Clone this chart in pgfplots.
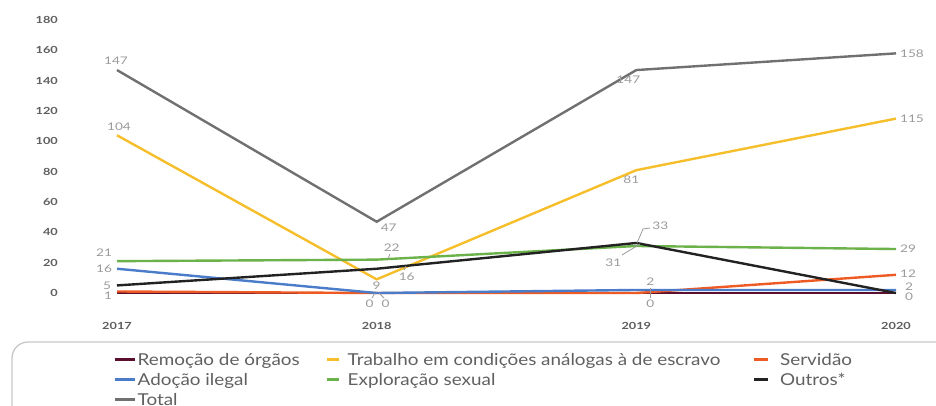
\documentclass[border=0pt]{standalone}
\usepackage{pgfplots}
\pgfplotsset{compat=1.18}
\usepackage{fontspec}
\setmainfont{Lato}[FakeStretch=1.15]
\newfontfamily\tickfont{Lato}[FakeStretch=1.3]

\definecolor{remocao}{HTML}{5B0F2E}
\definecolor{trabalho}{HTML}{F5BE2A}
\definecolor{servidao}{HTML}{EE5A24}
\definecolor{adocao}{HTML}{4A7CC9}
\definecolor{exploracao}{HTML}{6BB24A}
\definecolor{outros}{HTML}{222222}
\definecolor{total}{HTML}{707070}
\definecolor{tickgray}{HTML}{5E5E5E}
\definecolor{labgray}{HTML}{9A9A9A}
\definecolor{legtext}{HTML}{606060}

% legend images sit in 20pt cells; dash length differs per legend column
\pgfplotsset{
  dashA/.style={legend image code/.code={%
      \draw[##1, line width=3pt] (0pt,1.9pt) -- (20pt,1.9pt);}},
  dashB/.style={legend image code/.code={%
      \path[draw=none] (0pt,0pt) -- (20pt,0pt);
      \draw[##1, line width=3pt] (0pt,1.9pt) -- (12pt,1.9pt);}},
  dashC/.style={legend image code/.code={%
      \path[draw=none] (0pt,0pt) -- (20pt,0pt);
      \draw[##1, line width=3pt] (0pt,1.9pt) -- (14pt,1.9pt);}},
}

\newcommand{\lab}[4]{\node[lbl] at ([shift={(#3pt,#4pt)}]axis cs:#1) {#2};}

\begin{document}
\begin{tikzpicture}[x=1pt,y=1pt,
  lbl/.style={font=\tickfont\fontsize{10.5}{11}\selectfont, text=labgray, inner sep=0pt}]
\useasboundingbox (0,0) rectangle (936,-405);
\begin{scope}
  \clip (0,0) rectangle (936,-405);
  \draw[draw=black!22, line width=1.3pt, rounded corners=16pt] (12,-342) rectangle (990,-470);
\end{scope}
\begin{axis}[
  at={(117pt,-293pt)}, anchor=south west,
  scale only axis, width=779pt, height=273pt,
  xmin=2017, xmax=2020, ymin=0, ymax=180,
  xtick={2017,2018,2019,2020},
  xticklabels={2017,2018,2019,2020},
  ytick={0,20,...,180},
  /pgf/number format/assume math mode=true,
  axis line style={draw=none},
  tick style={draw=none},
  clip=false,
  ticklabel style={font=\tickfont\bfseries\fontsize{9.8}{10}\selectfont, text=tickgray, inner sep=0pt},
  yticklabel style={anchor=east, xshift=-59pt},
  xticklabel style={anchor=center, yshift=-33pt},
  legend columns=3,
  legend cell align=left,
  legend style={at={(axis description cs:-0.00513,-0.2194)}, anchor=north west,
    draw=none, fill=none, inner sep=0pt, column sep=0pt, row sep=4pt,
    font=\fontsize{16.4}{16.4}\selectfont, text=legtext,
    nodes={inner sep=0pt, text height=12pt, text depth=4pt}},
  every axis plot/.append style={line width=2.4pt},
]
\addplot[color=remocao, dashA] coordinates {(2017,0)(2018,0)(2019,0)(2020,0)};
\addlegendentry{\makebox[189pt][l]{\hspace{1.5pt}Remoção de órgãos}}
\addplot[color=trabalho, dashB] coordinates {(2017,104)(2018,9)(2019,81)(2020,115)};
\addlegendentry{\makebox[406pt][l]{\hspace{1pt}Trabalho em condições análogas à de escravo}}
\addplot[color=servidao, dashC] coordinates {(2017,1)(2018,0)(2019,0)(2020,12)};
\addlegendentry{\hspace{6pt}Servidão}
\addplot[color=adocao, dashA] coordinates {(2017,16)(2018,0)(2019,2)(2020,2)};
\addlegendentry{\hspace{1.5pt}Adoção ilegal}
\addplot[color=exploracao, dashB] coordinates {(2017,21)(2018,22)(2019,31)(2020,29)};
\addlegendentry{\hspace{1pt}Exploração sexual}
\addplot[color=outros, dashC] coordinates {(2017,5)(2018,16)(2019,33)(2020,0)};
\addlegendentry{\hspace{6pt}Outros*}
\addplot[color=total, dashA] coordinates {(2017,147)(2018,47)(2019,147)(2020,158)};
\addlegendentry{\hspace{1.5pt}Total}

% data labels
\lab{2017,147}{147}{-1}{9}
\lab{2018,47}{47}{12}{-6}
\lab{2019,147}{147}{-8}{-10}
\lab{2020,158}{158}{16}{0}
\lab{2017,104}{104}{2}{9}
\lab{2018,9}{9}{0}{-6}
\lab{2019,81}{81}{-5}{-10}
\lab{2020,115}{115}{16}{0}
\lab{2017,21}{21}{-13}{8}
\lab{2018,22}{22}{15}{12}
\lab{2019,31}{31}{-23}{-17}
\lab{2020,29}{29}{12}{0}
\lab{2017,16}{16}{-13}{0}
\lab{2019,2}{2}{14}{8}
\lab{2020,2}{2}{13}{3}
\lab{2017,5}{5}{-10}{-0.5}
\lab{2018,16}{16}{30}{-8}
\lab{2019,33}{33}{24}{17}
\lab{2020,0}{0}{13}{-4}
\lab{2017,1}{1}{-9}{-4.5}
\lab{2019,0}{0}{14}{-11}
\lab{2020,12}{12}{12}{1}
\lab{2018,0}{0}{-7}{-11}
\lab{2018,0}{0}{9}{-11}
\end{axis}
% leader lines
\begin{scope}[draw=labgray, line width=0.8pt]
  \draw (622,-255) -- (640,-244);
  \draw (637,-243) -- (643,-229) -- (650,-228);
  \draw (650,-288) -- (650,-298);
  \draw (390,-254) -- (388,-259);
  \draw (404,-270) -- (406,-266);
  \draw (372,-298) -- (375,-293);
  \draw (384,-298) -- (379,-293);
\end{scope}
\end{tikzpicture}
\end{document}
